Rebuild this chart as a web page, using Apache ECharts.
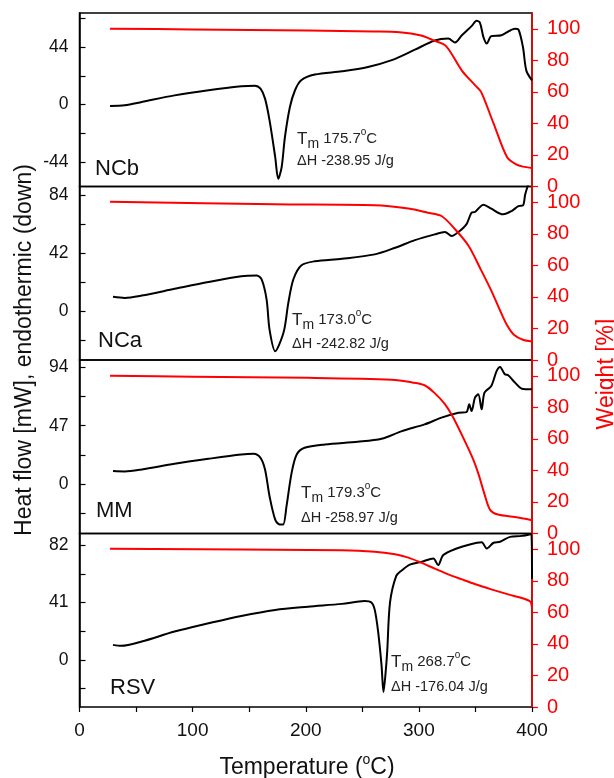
<!DOCTYPE html>
<html>
<head>
<meta charset="utf-8">
<script src="https://cdn.jsdelivr.net/npm/echarts@6/dist/echarts.min.js"></script>
<style>
html, body { margin: 0; padding: 0; background: #fff; }
#chart { width: 614px; height: 778px; }
</style>
</head>
<body>
<div id="chart"></div>
<script>
// sample names, top to bottom
var panelNames = ['NCb', 'NCa', 'MM', 'RSV'];
var tmValues = ['175.7', '173.0', '179.3', '268.7'];
var dhValues = ['-238.95', '-242.82', '-258.97', '-176.04'];
// heat flow tick step for each panel (mW)
var heatSteps = [44, 42, 47, 41];
var weightTicks = [0, 20, 40, 60, 80, 100];
var tempLabels = [0, 100, 200, 300, 400];
var tempTicks = [0, 50, 100, 150, 200, 250, 300, 350, 400];

// DSC curves [temperature, heat flow]
var dscNCb = [[27, -1.0], [40, -0.5], [55, 2.0], [84, 7.1], [114, 11], [143, 14], [155, 14.5], [160, 12.2],
    [164, 4.6], [168, -12], [173, -40], [175.7, -56.6], [178.7, -47.7], [181.6, -24.7], [186, -1.8],
    [190.5, 11], [196, 18.6], [208, 23], [232, 25.5], [255, 28.8], [276, 34], [296.5, 42], [314, 49],
    [326, 50.5], [332, 47.5], [338, 53], [346.6, 60], [351, 64], [354, 62.5], [357, 51.8], [360, 46.7],
    [364, 52.3], [373, 53], [385, 58], [388, 57.4], [392, 44], [395, 26], [400, 18.6]];
var dscNCa = [[29.6, 10.2], [40, 9.4], [55, 11.1], [84, 16], [114, 21], [143, 25.2], [156.6, 25.7], [161, 22.8],
    [165.4, 8.2], [168, -13.6], [173, -29.3], [176.5, -24.5], [181, -13.6], [184.6, 5.8], [189, 22.8],
    [196, 33], [208, 36], [232, 37.8], [261, 41], [279, 45.8], [296.5, 51.3], [314, 55.5], [323, 57.2],
    [329, 54.3], [335, 57.2], [342, 62.7], [346.6, 71.2], [349.6, 71.7], [352.5, 74.1], [357, 77],
    [364, 74.1], [374.5, 70], [382, 72.4], [388, 76], [392, 76.5], [394, 84.5], [396.7, 91.8], [400, 100]];
var dscMM = [[29.6, 10.5], [40, 10.2], [55, 11.8], [84, 16.4], [114, 20.4], [143, 23.9], [154, 24.5], [160, 21.2],
    [164, 11.8], [168, -9.7], [173, -28.5], [177, -32.5], [180, -32.5], [183, -17.7], [187.5, 9.1],
    [192, 23.9], [199, 29.3], [217, 32], [246, 34.1], [267, 36.5], [285, 42.7], [305, 48.1], [320, 53.5],
    [335, 57.5], [342, 58], [344.5, 64.2], [346.6, 58.8], [349.6, 69.6], [352.5, 72.3], [355.5, 60.2],
    [358, 73.6], [364, 79], [368.7, 91], [371.7, 94.3], [376, 88.4], [379, 87.6], [385, 81.7],
    [391, 76.8], [400, 76.3]];
var dscRSV = [[29.6, 10.7], [37, 10], [55, 13.1], [84, 20.2], [114, 26.1], [143, 31.4], [173, 35.7], [202, 38],
    [232, 40], [252, 42], [258, 41], [261, 35.7], [264, 20], [267, -4], [268.7, -23], [270.5, -10],
    [272, 6], [274.5, 41], [280, 60], [285, 64], [292, 68], [302, 70], [312.8, 72.5], [317, 67.7],
    [321.6, 74.9], [333.4, 79.6], [345, 82.5], [355.5, 84], [360, 79.6], [366, 83.7], [371.8, 84.4],
    [380.6, 87.9], [391, 88.6], [399.5, 90], [400, 58]];

// TGA curves [temperature, weight %]
var tgaNCb = [[27, 100], [100, 99.6], [202, 98.9], [260, 98.3], [283, 97.8], [302, 95.7], [313, 92.6],
    [324, 89], [338, 73.5], [350, 64], [355, 60], [366, 40], [378, 18.5], [386, 14], [392, 12.6], [400, 11.8]];
var tgaNCa = [[27, 100.4], [173, 98.7], [261, 98.1], [290.7, 96], [308, 93.4], [320, 91.3], [332, 82.9],
    [344, 72.3], [355, 57], [364, 44], [372, 31], [378, 22], [384, 16], [392, 12.8], [400, 11.8]];
var tgaMM = [[27, 100], [100, 99.4], [202, 98.7], [276, 97.5], [294, 95.8], [305, 94], [314, 89], [323, 82],
    [330, 74], [340, 59.5], [348, 47], [353, 37], [358, 25], [363, 15], [370, 12], [385, 10.4], [400, 8.4]];
var tgaRSV = [[27, 100.4], [232, 99.4], [261, 98.5], [279, 96.8], [290.7, 94.7], [302, 91.5], [314, 87.7],
    [326, 84.1], [338, 80.9], [350, 77.8], [364, 74.6], [379, 71.4], [398, 67.2], [400, 63]];

var dscData = [dscNCb, dscNCa, dscMM, dscRSV];
var tgaData = [tgaNCb, tgaNCa, tgaMM, tgaRSV];

// layout
var FONT = '"Liberation Sans", Arial, sans-serif';
var gridTops = [13, 186.5, 360, 533.5];
var gridHeight = 173.5;
var heatMin = [-62.5, -35.6, -39.7, -33.7];
var heatMax = [70, 90.2, 99.9, 90.3];
var labelPos = [[95, 169], [98, 341], [96, 511], [110, 687.5]];
var notePos = [[297, 139, 161], [292, 320, 344], [301, 493, 518], [391, 662, 687]];

var chart = echarts.init(document.getElementById('chart'), null, { renderer: 'canvas' });

var grids = [], xAxes = [], yAxes = [], series = [], graphics = [];

for (var i = 0; i < 4; i++) {
    var last = i === 3;
    var s = heatSteps[i];
    grids.push({
        left: 79.5, right: 82, top: gridTops[i], height: gridHeight,
        show: true, borderColor: '#000', borderWidth: 1.5, backgroundColor: 'transparent'
    });
    xAxes.push({
        type: 'value', gridIndex: i, position: 'bottom', min: 0, max: 400, interval: 50,
        axisLine: { show: false, onZero: false },
        axisTick: { show: last, length: 5, lineStyle: { color: '#000', width: 1.2 }, customValues: tempTicks },
        axisLabel: { show: last, color: '#111', fontSize: 19, fontFamily: FONT, margin: 14, customValues: tempLabels },
        splitLine: { show: false }
    });
    // heat flow axis (left)
    yAxes.push({
        type: 'value', gridIndex: i, position: 'left', min: heatMin[i], max: heatMax[i],
        axisLine: { show: true, onZero: false, lineStyle: { color: '#000', width: 1.5 } },
        axisTick: {
            show: true, inside: true, length: 6, lineStyle: { color: '#000', width: 1.2 },
            customValues: [-s, -s / 2, 0, s / 2, s, s * 1.5, s * 2].filter(function (v) {
                return v >= heatMin[i] && v <= heatMax[i];
            })
        },
        axisLabel: {
            color: '#111', fontSize: 17.5, fontFamily: FONT, margin: 11,
            customValues: [-s, 0, s, 2 * s].filter(function (v) {
                return v >= heatMin[i] && v <= heatMax[i];
            })
        },
        splitLine: { show: false }
    });
    // weight axis (right)
    yAxes.push({
        type: 'value', gridIndex: i, position: 'right', min: 0, max: 110,
        axisLine: { show: true, onZero: false, lineStyle: { color: '#ff0000', width: 1.5 } },
        axisTick: { show: true, length: 6, lineStyle: { color: '#ff0000', width: 1.2 }, customValues: weightTicks },
        axisLabel: { color: '#ff0000', fontSize: 20, fontFamily: FONT, margin: 15, customValues: weightTicks },
        splitLine: { show: false }
    });
    series.push({
        type: 'line', xAxisIndex: i, yAxisIndex: 2 * i, data: dscData[i],
        showSymbol: false, smooth: 0.3, silent: true,
        lineStyle: { color: '#000', width: 2 }, itemStyle: { color: '#000' }
    });
    series.push({
        type: 'line', xAxisIndex: i, yAxisIndex: 2 * i + 1, data: tgaData[i],
        showSymbol: false, smooth: 0.3, silent: true,
        lineStyle: { color: '#ff0000', width: 2 }, itemStyle: { color: '#ff0000' }
    });

    // sample name
    graphics.push({
        type: 'text', x: labelPos[i][0], y: labelPos[i][1],
        style: { text: panelNames[i], font: '22px ' + FONT, fill: '#111', textVerticalAlign: 'middle' }
    });
    // melting temperature and enthalpy
    graphics.push({
        type: 'text', x: notePos[i][0], y: notePos[i][1],
        style: {
            text: '{t|T}{m|m}{v| ' + tmValues[i] + '}{o|o}{v|C}',
            textVerticalAlign: 'middle', fill: '#222',
            rich: {
                t: { fontSize: 17, fontFamily: FONT, lineHeight: 24, fill: '#222' },
                m: { fontSize: 14, fontFamily: FONT, lineHeight: 14, verticalAlign: 'bottom', fill: '#222' },
                v: { fontSize: 15, fontFamily: FONT, lineHeight: 24, fill: '#222' },
                o: { fontSize: 10, fontFamily: FONT, lineHeight: 16, verticalAlign: 'top', fill: '#222' }
            }
        }
    });
    graphics.push({
        type: 'text', x: notePos[i][0], y: notePos[i][2],
        style: { text: '\u0394H ' + dhValues[i] + ' J/g', font: '14.5px ' + FONT, fill: '#222', textVerticalAlign: 'middle' }
    });
}

// axis titles
graphics.push({
    type: 'text', x: 25, y: 350, rotation: Math.PI / 2,
    style: {
        text: 'Heat flow [mW], endothermic (down)', font: '23px ' + FONT, fill: '#111',
        textAlign: 'center', textVerticalAlign: 'middle'
    }
});
graphics.push({
    type: 'text', x: 607, y: 374, rotation: Math.PI / 2,
    style: {
        text: 'Weight [%]', font: '23px ' + FONT, fill: '#ff0000',
        textAlign: 'center', textVerticalAlign: 'middle'
    }
});
graphics.push({
    type: 'text', x: 307, y: 768,
    style: {
        text: '{v|Temperature (}{o|o}{v|C)}', textAlign: 'center', textVerticalAlign: 'middle', fill: '#111',
        rich: {
            v: { fontSize: 23, fontFamily: FONT, lineHeight: 30, fill: '#111' },
            o: { fontSize: 14, fontFamily: FONT, lineHeight: 17, verticalAlign: 'top', fill: '#111' }
        }
    }
});

chart.setOption({
    animation: false,
    backgroundColor: '#fff',
    grid: grids,
    xAxis: xAxes,
    yAxis: yAxes,
    series: series,
    graphic: graphics
});
</script>
</body>
</html>
